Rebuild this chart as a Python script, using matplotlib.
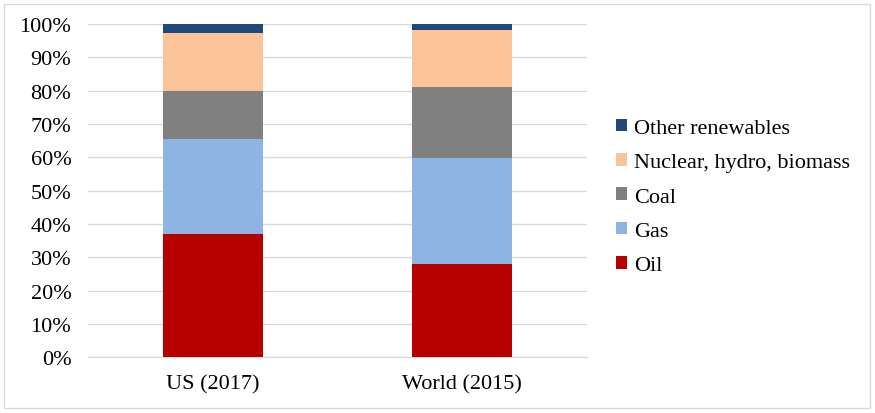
import matplotlib.pyplot as plt
import numpy as np
from matplotlib.patches import Rectangle

plt.rcParams['font.family'] = ['Liberation Serif', 'DejaVu Serif']

categories = ['US (2017)', 'World (2015)']
series = ['Oil', 'Gas', 'Coal', 'Nuclear, hydro, biomass', 'Other renewables']
oil = [37.0, 28.0]
gas = [28.5, 31.8]
coal = [14.4, 21.3]
nuclear = [17.5, 17.1]
other = [2.6, 1.8]
colors = ['#B70000', '#8EB4E3', '#808080', '#FAC498', '#1F497D']

fig = plt.figure(figsize=(8.75, 4.14), dpi=100)
ax = fig.add_axes([0.1006, 0.1345, 0.5705, 0.805])

x = np.arange(len(categories))
bottom = np.zeros(len(categories))
handles = []
for name, vals, c in zip(series, [oil, gas, coal, nuclear, other], colors):
    b = ax.bar(x, vals, 0.4, bottom=bottom, color=c, label=name, zorder=3)
    handles.append(b)
    bottom += np.array(vals)

ax.set_xlim(-0.5, 1.5)
ax.set_ylim(0, 100)
ax.set_yticks(np.arange(0, 101, 10))
ax.set_yticklabels([f'{v}%' for v in range(0, 101, 10)])
ax.set_xticks(x)
ax.set_xticklabels(categories)
ax.tick_params(axis='both', length=0, labelsize=16)
ax.tick_params(axis='x', pad=12)
ax.tick_params(axis='y', pad=12)
ax.grid(axis='y', color='#D9D9D9', linewidth=1, zorder=0)
for s in ['top', 'right', 'left']:
    ax.spines[s].set_visible(False)
ax.spines['bottom'].set_color('#D9D9D9')

ax.legend(handles[::-1], series[::-1], loc='center left', bbox_to_anchor=(1.04, 0.481),
          frameon=False, fontsize=16, handlelength=0.5, handleheight=0.5,
          handletextpad=0.3, labelspacing=0.68, borderaxespad=0)

fig.patches.append(Rectangle((4 / 875, 5 / 414), 866 / 875, 404 / 414, transform=fig.transFigure,
                             fill=False, edgecolor='#D9D9D9', linewidth=1))

fig.savefig('out.png', dpi=100)
